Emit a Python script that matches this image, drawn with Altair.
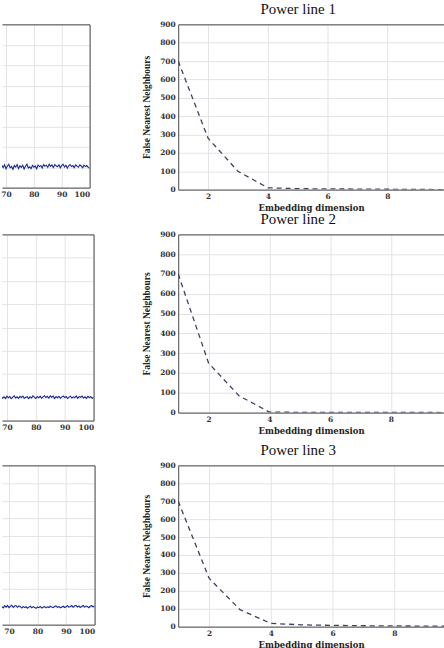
import altair as alt
import pandas as pd

# Tail of each recorded signal, one sample every 0.5 time units from T0
T0 = 67.5
DT = 0.5
signal_1 = [
    1.03, 0.94, 1.09, 0.98, 1.12, 0.92, 1.06, 1.14, 0.97, 1.04,
    0.90, 1.08, 1.01, 1.13, 0.93, 1.07, 0.99, 1.10, 0.91, 1.05,
    1.15, 0.96, 1.02, 0.93, 1.09, 1.00, 1.06, 0.92, 1.11, 1.03,
    1.08, 0.96, 1.13, 1.05, 1.10, 0.99, 1.15, 1.04, 1.11, 0.98,
    1.13, 1.07, 1.02, 1.12, 0.97, 1.09, 1.14, 1.01, 1.10, 0.96,
    1.07, 1.13, 1.03, 1.08, 0.98, 1.11, 1.05, 1.00, 1.12, 1.06,
    0.97, 1.10, 1.03, 1.08, 0.99, 0.95,
]
signal_2 = [
    0.99, 1.04, 0.96, 1.02, 0.95, 1.05, 0.98, 1.03, 0.94, 1.01,
    1.06, 0.97, 1.02, 0.95, 1.04, 0.99, 1.05, 0.96, 1.00, 1.03,
    0.94, 1.02, 0.97, 1.06, 1.01, 0.95, 1.03, 0.98, 1.05, 0.96,
    1.02, 1.07, 0.99, 1.04, 0.97, 1.06, 1.00, 1.05, 0.95, 1.03,
    0.98, 1.04, 0.96, 1.02, 1.06, 0.99, 1.03, 0.95, 1.01, 1.05,
    0.97, 1.02, 0.99, 1.06, 0.96, 1.03, 1.00, 1.05, 0.97, 1.02,
    0.95, 1.04, 0.99, 1.03, 0.96, 1.01,
]
signal_3 = [
    1.02, 0.95, 1.07, 0.99, 1.09, 0.96, 1.04, 1.10, 0.97, 1.05,
    1.08, 0.98, 1.06, 1.02, 0.94, 1.03, 0.96, 1.01, 0.93, 0.99,
    1.04, 0.95, 1.02, 0.97, 0.92, 1.00, 0.96, 1.03, 0.94, 0.98,
    1.02, 0.95, 1.01, 0.97, 1.04, 0.99, 0.96, 1.03, 1.06, 0.98,
    1.02, 0.95, 1.00, 1.04, 0.97, 1.01, 1.07, 0.99, 1.03, 1.08,
    0.98, 1.05, 1.09, 1.00, 1.06, 0.97, 1.03, 1.08, 0.99, 1.05,
    1.02, 0.96, 1.04, 1.07, 1.01, 1.05,
]
time_ticks = [70, 80, 90, 100]

# False nearest neighbours against embedding dimension
dims = [1, 2, 3, 4, 5, 6, 7, 8, 9, 10]
fnn_1 = [700, 280, 100, 10, 5, 4, 3, 2, 1, 0]
fnn_2 = [700, 250, 85, 3, 1, 1, 1, 1, 1, 0]
fnn_3 = [700, 270, 95, 18, 10, 7, 5, 4, 3, 2]
fnn_ticks = [0, 100, 200, 300, 400, 500, 600, 700, 800, 900]
dim_ticks = [2, 4, 6, 8]
titles = ["Power line 1", "Power line 2", "Power line 3"]

FRAME = "#4a4a4a"
GRID = "#e3e3e3"
SIGNAL = "#1c2a8e"
FNN_LINE = "#3d4262"
TICK_FONT = "DejaVu Serif"


def series_panel(values, width, height, x_start, y_max):
    df = pd.DataFrame({"t": [T0 + DT * i for i in range(len(values))], "v": values})
    xs = alt.Scale(domain=[x_start, 100], nice=False, zero=False)
    ys = alt.Scale(domain=[0, y_max], nice=False, zero=False)
    y_enc = alt.Y(
        "v:Q", scale=ys,
        axis=alt.Axis(orient="right", values=list(range(y_max + 1)), labels=False,
                      ticks=False, grid=True, domain=True, title=None),
    )
    base = alt.Chart(df)
    line = base.mark_line(color=SIGNAL, strokeWidth=1.1, clip=True).encode(
        x=alt.X("t:Q", scale=xs,
                axis=alt.Axis(values=time_ticks, grid=True, ticks=False, domain=True,
                              title=None, labelPadding=3)),
        y=y_enc,
    )
    top = base.mark_line(opacity=0, clip=True).encode(
        x=alt.X("t:Q", scale=xs,
                axis=alt.Axis(orient="top", labels=False, ticks=False, grid=False,
                              domain=True, title=None)),
        y=y_enc,
    )
    return alt.layer(line, top).resolve_axis(x="independent").properties(
        width=width, height=height)


def fnn_panel(values, title, height, x_max):
    df = pd.DataFrame({"d": dims, "n": values})
    xs = alt.Scale(domain=[1, x_max], nice=False, zero=False)
    ys = alt.Scale(domain=[0, 900], nice=False)
    y_enc = alt.Y(
        "n:Q", scale=ys,
        axis=alt.Axis(values=fnn_ticks, grid=True, ticks=False, domain=True,
                      title="False Nearest Neighbours", titleFont="Liberation Serif",
                      titleFontSize=9.5, titleFontWeight="bold", titlePadding=8,
                      labelPadding=3),
    )
    base = alt.Chart(df)
    line = base.mark_line(color=FNN_LINE, strokeWidth=1.3, strokeDash=[5, 4],
                          clip=True).encode(
        x=alt.X("d:Q", scale=xs,
                axis=alt.Axis(values=dim_ticks, grid=True, ticks=False, domain=True,
                              title="Embedding dimension", titleFont=TICK_FONT,
                              titleFontSize=8.5, titleFontWeight="bold",
                              titlePadding=3, labelPadding=3)),
        y=y_enc,
    )
    top = base.mark_line(opacity=0, clip=True).encode(
        x=alt.X("d:Q", scale=xs,
                axis=alt.Axis(orient="top", labels=False, ticks=False, grid=False,
                              domain=True, title=None)),
        y=y_enc,
    )
    return alt.layer(
        line, top,
        title=alt.TitleParams(title, dx=-13),
    ).resolve_axis(x="independent").properties(width=267, height=height)


panels = [
    series_panel(signal_1, 88, 164, 68.57, 8),
    fnn_panel(fnn_1, titles[0], 166, 9.9),
    series_panel(signal_2, 92, 187, 68.28, 8),
    fnn_panel(fnn_2, titles[1], 179, 9.75),
    series_panel(signal_3, 93, 160, 67.56, 9),
    fnn_panel(fnn_3, titles[2], 162, 9.61),
]

chart = alt.concat(
    *panels, columns=2, spacing={"row": 45, "column": 84}, bounds="flush",
).properties(
    padding={"left": 0, "top": 1, "right": 0, "bottom": 0},
    background="white",
).configure_view(
    stroke=None,
).configure_axis(
    domainColor=FRAME,
    domainWidth=1,
    gridColor=GRID,
    gridWidth=1,
    labelFont=TICK_FONT,
    labelFontSize=7.5,
    labelFontWeight="bold",
    labelColor="#333333",
    titleColor="#222222",
).configure_title(
    font="Liberation Serif",
    fontSize=15,
    fontWeight="normal",
    color="#111111",
    anchor="middle",
    offset=3,
)

chart.save("out.html", embed_options={"renderer": "svg", "actions": False})
